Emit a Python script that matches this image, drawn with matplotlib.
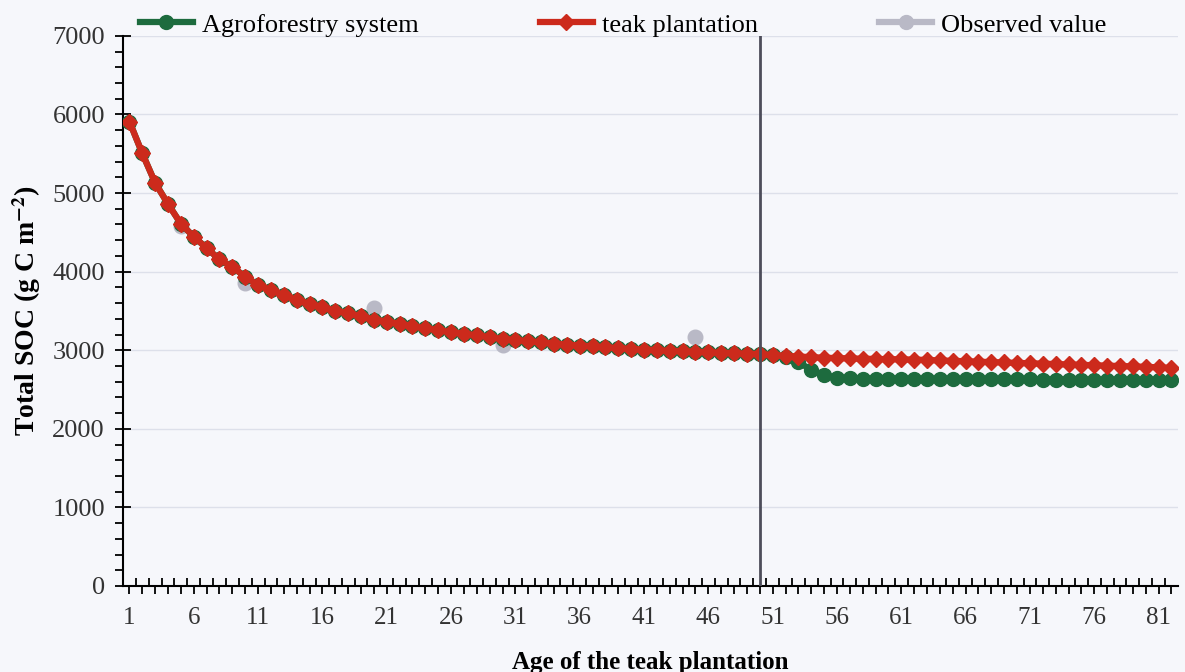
import matplotlib
matplotlib.use("Agg")
import matplotlib.pyplot as plt
from matplotlib.lines import Line2D
from matplotlib.ticker import FixedLocator, FuncFormatter, MultipleLocator

plt.rcParams['font.family'] = ['Liberation Serif', 'DejaVu Serif']
plt.rcParams['mathtext.fontset'] = 'stix'

ages = list(range(1, 83))

teak = [5910, 5505, 5130, 4860, 4610, 4445, 4300, 4155, 4060, 3935,
        3830, 3765, 3700, 3640, 3590, 3545, 3505, 3470, 3430, 3390,
        3365, 3335, 3305, 3280, 3255, 3230, 3210, 3190, 3165, 3145,
        3130, 3115, 3100, 3085, 3072, 3060, 3048, 3037, 3027, 3017,
        3008, 3000, 2993, 2986, 2980, 2974, 2968, 2962, 2956, 2950,
        2940, 2930, 2920, 2912, 2905, 2900, 2896, 2892, 2889, 2886,
        2884, 2881, 2876, 2870, 2865, 2860, 2854, 2849, 2844, 2839,
        2834, 2829, 2824, 2819, 2814, 2809, 2804, 2799, 2794, 2789,
        2782, 2775]

agro = [5910, 5505, 5130, 4860, 4610, 4445, 4300, 4155, 4060, 3935,
        3830, 3765, 3700, 3640, 3590, 3545, 3505, 3470, 3430, 3390,
        3365, 3335, 3305, 3280, 3255, 3230, 3210, 3190, 3165, 3145,
        3130, 3115, 3100, 3085, 3072, 3060, 3048, 3037, 3027, 3017,
        3008, 3000, 2993, 2986, 2980, 2974, 2968, 2962, 2956, 2950,
        2935, 2910, 2850, 2750, 2685, 2650, 2642, 2640, 2639, 2638,
        2637, 2636, 2635, 2634, 2633, 2632, 2631, 2630, 2630, 2629,
        2628, 2627, 2626, 2625, 2625, 2624, 2623, 2622, 2622, 2621,
        2620, 2620]

obs_age = [5, 10, 20, 30, 45]
obs_val = [4584, 3859, 3540, 3066, 3164]

split_age = 50

green = '#1d6b3e'
red = '#cc2a1c'
gray = '#b9b9c6'
bg = '#f6f7fb'

fig = plt.figure(figsize=(11.85, 6.72), dpi=100, facecolor=bg)
ax = fig.add_axes([0.1038, 0.128, 0.8902, 0.8186], facecolor=bg)

ax.plot(ages, agro, color=green, lw=4.5, marker='o', ms=10, zorder=3)
ax.plot(ages, teak, color=red, lw=4.5, marker='D', ms=8, zorder=4)
ax.plot(obs_age, obs_val, ls='none', marker='o', ms=10.5, color=gray, zorder=2)
ax.axvline(split_age, color='#4d4d5a', lw=2, zorder=5)

ax.set_xlim(0.5, 82.5)
ax.set_ylim(0, 7000)

ax.xaxis.set_major_locator(FixedLocator(ages))
ax.xaxis.set_major_formatter(FuncFormatter(lambda v, p: f"{int(round(v))}" if (int(round(v)) - 1) % 5 == 0 else ""))
ax.xaxis.set_minor_locator(FixedLocator([a + 0.5 for a in ages[:-1]]))
ax.tick_params(axis='x', which='major', direction='out', length=6, width=1.3, labelsize=18, pad=9, color='black')
ax.tick_params(axis='x', which='minor', direction='in', length=6, width=1.3, color='black')

ax.yaxis.set_major_locator(MultipleLocator(1000))
ax.yaxis.set_minor_locator(MultipleLocator(200))
ax.tick_params(axis='y', which='major', direction='inout', length=12, width=1.3, labelsize=19, pad=7, color='black')
ax.tick_params(axis='y', which='minor', direction='out', length=6, width=1.3, color='black')
for lab in ax.get_xticklabels() + ax.get_yticklabels():
    lab.set_color('#333333')

ax.grid(axis='y', which='major', color='#dde0ea', lw=1, zorder=0)
ax.set_axisbelow(True)
for s in ['top', 'right']:
    ax.spines[s].set_visible(False)
for s in ['left', 'bottom']:
    ax.spines[s].set_linewidth(1.5)
    ax.spines[s].set_color('black')

ax.set_xlabel('Age of the teak plantation', fontsize=18, fontweight='bold', labelpad=16)
ax.set_ylabel('Total SOC (g C m$^{\\mathbf{-2}}$)', fontsize=20, fontweight='bold', labelpad=7)

handles = [Line2D([], [], color=green, lw=4.5, marker='o', ms=10),
           Line2D([], [], color=red, lw=4.5, marker='D', ms=8),
           Line2D([], [], color=gray, lw=4.5, marker='o', ms=10)]
labels = ['Agroforestry system', 'teak plantation', 'Observed value']
fig.legend(handles, labels, loc='center left', bbox_to_anchor=(0.118, 0.963), ncol=3,
           frameon=False, fontsize=19, handlelength=2.0, handletextpad=0.35,
           columnspacing=4.6, borderaxespad=0, borderpad=0)

fig.savefig('out.png', dpi=100, facecolor=bg)
